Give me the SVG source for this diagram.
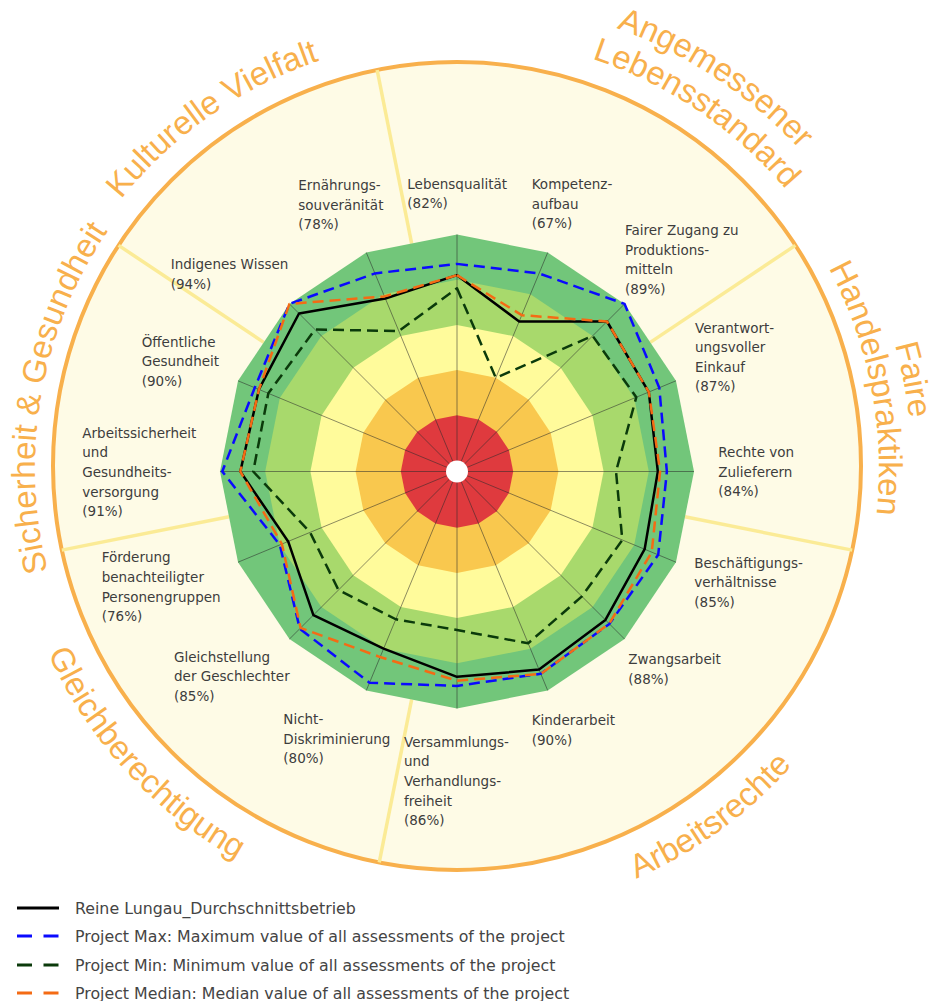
<svg xmlns="http://www.w3.org/2000/svg" width="929" height="1001" viewBox="0 0 929 1001">
<style>
.lbl{font-family:"DejaVu Sans","Verdana",sans-serif;font-size:13.5px;fill:#3d3d3d}
.grp{font-family:"Liberation Sans","Arial",sans-serif;font-size:33px;fill:#f8b04c}
.leg{font-family:"DejaVu Sans","Verdana",sans-serif;font-size:15.8px;fill:#444}
.sep{stroke:#fbeb96;stroke-width:3.5;fill:none}
.spoke{stroke:#2a2a2a;stroke-opacity:0.6;stroke-width:0.9;fill:none}
.ser{fill:none;stroke-width:2.5;stroke-linejoin:round}
.dash{stroke-dasharray:11 6}
.ldash{stroke-dasharray:15 11.5}
</style>
<defs>
<path id="arcKV" d="M 84.61 683 A 430 430 0 0 1 786.4 191.6"/>
<path id="arcSG" d="M 347.78 875.62 A 422 422 0 0 1 493.78 47.61"/>
<path id="arcLS" d="M 122.05 196.76 A 431 431 0 0 1 833.96 676.95"/>
<path id="arcAM" d="M 90.74 176.67 A 468 468 0 0 1 868.29 691.31"/>
<path id="arcHP" d="M 412.89 48.31 A 422 422 0 0 1 573.32 873.65"/>
<path id="arcFA" d="M 409.44 15.5 A 455 455 0 0 1 582.42 905.37"/>
<path id="arcGB" d="M 125.96 164.66 A 449 449 0 0 0 730.33 824.21"/>
<path id="arcAR" d="M 118.89 761.91 A 448 448 0 0 0 841.01 237.26"/>
</defs>

<g id="ring">
<circle cx="457" cy="466" r="404" fill="#fefbe6" stroke="#f8b04c" stroke-width="4"/>
</g>

<g id="separators">
<line class="sep" x1="411.66" y1="243.56" x2="377.14" y2="70.01"/>
<line class="sep" x1="650.23" y1="342.39" x2="795.41" y2="245.38"/>
<line class="sep" x1="684.94" y1="516.84" x2="852.16" y2="550.1"/>
<line class="sep" x1="411.66" y1="699.44" x2="379.24" y2="862.41"/>
<line class="sep" x1="229.06" y1="516.84" x2="61.84" y2="550.1"/>
<line class="sep" x1="263.77" y1="342.39" x2="118.59" y2="245.38"/>
</g>

<g id="bands">
<polygon fill="#72c67a" points="457,234.5 547.7,252.54 624.58,303.92 675.96,380.8 694,471.5 675.96,562.2 624.58,639.08 547.7,690.46 457,708.5 366.3,690.46 289.42,639.08 238.04,562.2 220,471.5 238.04,380.8 289.42,303.92 366.3,252.54"/>
<polygon fill="#a8d96c" points="457,279.7 530.4,294.3 592.62,335.88 634.2,398.1 648.8,471.5 634.2,544.9 592.62,607.12 530.4,648.7 457,663.3 383.6,648.7 321.38,607.12 279.8,544.9 265.2,471.5 279.8,398.1 321.38,335.88 383.6,294.3"/>
<polygon fill="#fffb9b" points="457,324.9 513.1,336.06 560.66,367.84 592.44,415.4 603.6,471.5 592.44,527.6 560.66,575.16 513.1,606.94 457,618.1 400.9,606.94 353.34,575.16 321.56,527.6 310.4,471.5 321.56,415.4 353.34,367.84 400.9,336.06"/>
<polygon fill="#f9c84e" points="457,370.1 495.8,377.82 528.7,399.8 550.68,432.7 558.4,471.5 550.68,510.3 528.7,543.2 495.8,565.18 457,572.9 418.2,565.18 385.3,543.2 363.32,510.3 355.6,471.5 363.32,432.7 385.3,399.8 418.2,377.82"/>
<polygon fill="#df3a3e" points="457,415.3 478.51,419.58 496.74,431.76 508.92,449.99 513.2,471.5 508.92,493.01 496.74,511.24 478.51,523.42 457,527.7 435.49,523.42 417.26,511.24 405.08,493.01 400.8,471.5 405.08,449.99 417.26,431.76 435.49,419.58"/>
</g>

<g id="spokes">
<path class="spoke" d="M457,471.5L457,234.5M457,471.5L547.7,252.54M457,471.5L624.58,303.92M457,471.5L675.96,380.8M457,471.5L694,471.5M457,471.5L675.96,562.2M457,471.5L624.58,639.08M457,471.5L547.7,690.46M457,471.5L457,708.5M457,471.5L366.3,690.46M457,471.5L289.42,639.08M457,471.5L238.04,562.2M457,471.5L220,471.5M457,471.5L238.04,380.8M457,471.5L289.42,303.92M457,471.5L366.3,252.54"/>
<circle cx="457" cy="471.5" r="11" fill="#ffffff"/>
</g>

<g id="series">
<polygon id="s-avg" class="ser" stroke="#000000" points="457,275.18 519.16,321.44 607.01,321.49 648.82,392.05 657.84,471.5 644.64,549.22 605.41,619.91 539.05,669.58 457,676.86 383.6,648.7 313.39,615.11 288.15,541.44 240.34,471.5 258.92,389.45 299,313.5 385.33,298.48"/>
<polygon id="s-max" class="ser dash" stroke="#0a0aff" points="457,263.88 539.05,273.42 624.58,303.92 659.26,387.72 666.88,471.5 658.21,554.84 609.4,623.9 540.78,673.76 457,685.9 369.5,682.74 299.8,628.7 279.8,544.9 222.26,471.5 254.74,387.72 289.42,303.92 374.95,273.42"/>
<polygon id="s-min" class="ser dash" stroke="#0b3a0b" points="457,288.29 495.8,377.82 592.62,335.88 636.29,397.24 616.03,471.5 622.3,539.97 581.92,596.42 528.15,643.27 457,630.08 395.8,619.26 338.47,590.03 310.08,532.36 253.22,471.5 268.32,393.34 314.98,329.48 398.82,331.05"/>
<polygon id="s-med" class="ser dash" stroke="#f46b14" points="457,275.18 521.75,315.18 607.01,321.49 648.82,392.05 660.1,471.5 651.73,552.16 609.24,623.74 540.86,673.97 457,680.7 380.14,657.05 300.6,627.9 281.89,544.03 240.34,471.5 258.92,389.45 289.42,303.92 384.47,296.39"/>
</g>

<g id="labels">
<g id="l-ernaehrung"><text class="lbl" x="298.3" y="190"><tspan x="298.3">Ernährungs-</tspan><tspan x="298.3" dy="19.6">souveränität</tspan><tspan x="298.3" dy="19.6">(78%)</tspan></text></g>
<g id="l-lebensqualitaet"><text class="lbl" x="407.3" y="188.5"><tspan x="407.3">Lebensqualität</tspan><tspan x="407.3" dy="19.6">(82%)</tspan></text></g>
<g id="l-kompetenz"><text class="lbl" x="531.7" y="189"><tspan x="531.7">Kompetenz-</tspan><tspan x="531.7" dy="19.6">aufbau</tspan><tspan x="531.7" dy="19.6">(67%)</tspan></text></g>
<g id="l-zugang"><text class="lbl" x="625" y="235"><tspan x="625">Fairer Zugang zu</tspan><tspan x="625" dy="19.6">Produktions-</tspan><tspan x="625" dy="19.6">mitteln</tspan><tspan x="625" dy="19.6">(89%)</tspan></text></g>
<g id="l-einkauf"><text class="lbl" x="695" y="332.5"><tspan x="695">Verantwort-</tspan><tspan x="695" dy="19.6">ungsvoller</tspan><tspan x="695" dy="19.6">Einkauf</tspan><tspan x="695" dy="19.6">(87%)</tspan></text></g>
<g id="l-zulieferer"><text class="lbl" x="718.3" y="457"><tspan x="718.3">Rechte von</tspan><tspan x="718.3" dy="19.6">Zulieferern</tspan><tspan x="718.3" dy="19.6">(84%)</tspan></text></g>
<g id="l-beschaeftigung"><text class="lbl" x="694.3" y="567.7"><tspan x="694.3">Beschäftigungs-</tspan><tspan x="694.3" dy="19.6">verhältnisse</tspan><tspan x="694.3" dy="19.6">(85%)</tspan></text></g>
<g id="l-zwangsarbeit"><text class="lbl" x="628.3" y="664.3"><tspan x="628.3">Zwangsarbeit</tspan><tspan x="628.3" dy="19.6">(88%)</tspan></text></g>
<g id="l-kinderarbeit"><text class="lbl" x="531.7" y="725"><tspan x="531.7">Kinderarbeit</tspan><tspan x="531.7" dy="19.6">(90%)</tspan></text></g>
<g id="l-versammlung"><text class="lbl" x="404" y="746.7"><tspan x="404">Versammlungs-</tspan><tspan x="404" dy="19.6">und</tspan><tspan x="404" dy="19.6">Verhandlungs-</tspan><tspan x="404" dy="19.6">freiheit</tspan><tspan x="404" dy="19.6">(86%)</tspan></text></g>
<g id="l-diskriminierung"><text class="lbl" x="283.3" y="724"><tspan x="283.3">Nicht-</tspan><tspan x="283.3" dy="19.6">Diskriminierung</tspan><tspan x="283.3" dy="19.6">(80%)</tspan></text></g>
<g id="l-gleichstellung"><text class="lbl" x="174" y="661.7"><tspan x="174">Gleichstellung</tspan><tspan x="174" dy="19.6">der Geschlechter</tspan><tspan x="174" dy="19.6">(85%)</tspan></text></g>
<g id="l-foerderung"><text class="lbl" x="101.7" y="562.3"><tspan x="101.7">Förderung</tspan><tspan x="101.7" dy="19.6">benachteiligter</tspan><tspan x="101.7" dy="19.6">Personengruppen</tspan><tspan x="101.7" dy="19.6">(76%)</tspan></text></g>
<g id="l-arbeitssicherheit"><text class="lbl" x="82.3" y="437.7"><tspan x="82.3">Arbeitssicherheit</tspan><tspan x="82.3" dy="19.6">und</tspan><tspan x="82.3" dy="19.6">Gesundheits-</tspan><tspan x="82.3" dy="19.6">versorgung</tspan><tspan x="82.3" dy="19.6">(91%)</tspan></text></g>
<g id="l-oeffentlich"><text class="lbl" x="141.7" y="346.7"><tspan x="141.7">Öffentliche</tspan><tspan x="141.7" dy="19.6">Gesundheit</tspan><tspan x="141.7" dy="19.6">(90%)</tspan></text></g>
<g id="l-indigen"><text class="lbl" x="170.7" y="269"><tspan x="170.7">Indigenes Wissen</tspan><tspan x="170.7" dy="19.6">(94%)</tspan></text></g>
</g>

<g id="groups">
<g id="g-kultur"><text class="grp" text-anchor="middle"><textPath href="#arcKV" startOffset="50%">Kulturelle Vielfalt</textPath></text></g>
<g id="g-sicherheit"><text class="grp" text-anchor="middle"><textPath href="#arcSG" startOffset="50%">Sicherheit &amp; Gesundheit</textPath></text></g>
<g id="g-lebensstandard"><text class="grp" text-anchor="middle"><textPath href="#arcAM" startOffset="50%">Angemessener</textPath></text><text class="grp" text-anchor="middle"><textPath href="#arcLS" startOffset="50%">Lebensstandard</textPath></text></g>
<g id="g-handel"><text class="grp" text-anchor="middle"><textPath href="#arcFA" startOffset="50%">Faire</textPath></text><text class="grp" text-anchor="middle"><textPath href="#arcHP" startOffset="50%">Handelspraktiken</textPath></text></g>
<g id="g-gleich"><text class="grp" text-anchor="middle"><textPath href="#arcGB" startOffset="50%">Gleichberechtigung</textPath></text></g>
<g id="g-arbeit"><text class="grp" text-anchor="middle"><textPath href="#arcAR" startOffset="50%">Arbeitsrechte</textPath></text></g>
</g>

<g id="legend">
<line x1="17" y1="908" x2="59" y2="908" stroke="#000" stroke-width="3"/>
<text class="leg" x="75" y="913.5">Reine Lungau_Durchschnittsbetrieb</text>
<line class="ldash" x1="17" y1="936" x2="59" y2="936" stroke="#0a0aff" stroke-width="3"/>
<text class="leg" x="75" y="942">Project Max: Maximum value of all assessments of the project</text>
<line class="ldash" x1="17" y1="965" x2="59" y2="965" stroke="#0b3a0b" stroke-width="3"/>
<text class="leg" x="75" y="971">Project Min: Minimum value of all assessments of the project</text>
<line class="ldash" x1="17" y1="993" x2="59" y2="993" stroke="#f46b14" stroke-width="3"/>
<text class="leg" x="75" y="999">Project Median: Median value of all assessments of the project</text>
</g>
</svg>
